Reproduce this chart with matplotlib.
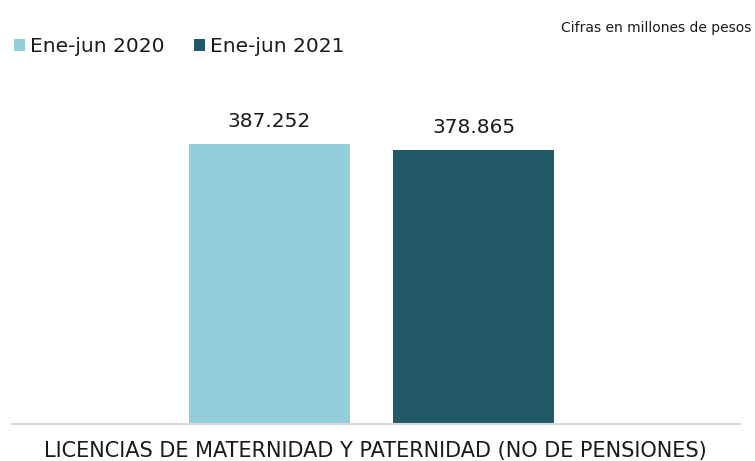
import numpy as np
import matplotlib.pyplot as plt
from matplotlib.patches import Patch

# datos
categoria = 'LICENCIAS DE MATERNIDAD Y PATERNIDAD (NO DE PENSIONES)'
series = ['Ene-jun 2020', 'Ene-jun 2021']
valores = [387.252, 378.865]
etiquetas = ['387.252', '378.865']
colores = ['#92CDDC', '#215968']

plt.rcParams['font.family'] = ['DejaVu Sans']
texto = '#1a1a1a'

fig = plt.figure(figsize=(7.55, 4.61), dpi=100)
fig.set_facecolor('white')
ax = fig.add_axes([12 / 755, 37 / 461, 728 / 755, 325 / 461])

ancho = 0.442
desplaz = [-0.2805, 0.2805]
for i in range(len(series)):
    ax.bar(desplaz[i], valores[i], width=ancho, color=colores[i])
    ax.text(desplaz[i], valores[i] + 18, etiquetas[i], ha='center', va='bottom',
            fontsize=14.5, color=texto)

ax.set_xlim(-0.988, 1.012)
ax.set_ylim(0, 450)
ax.set_xticks([])
ax.set_yticks([])
for s in ['top', 'right', 'left']:
    ax.spines[s].set_visible(False)
ax.spines['bottom'].set_color('#d9d9d9')
ax.spines['bottom'].set_linewidth(1.5)

# etiqueta de la categoria y nota
fig.text(375 / 755, 4.5 / 461, categoria, ha='center', va='baseline', fontsize=15, color=texto)
fig.text(751 / 755, 1 - 28 / 461, 'Cifras en millones de pesos', ha='right', va='center',
         fontsize=10, color=texto)

handles = [Patch(facecolor=colores[i], label=series[i]) for i in range(len(series))]
fig.legend(handles=handles, loc='center left', bbox_to_anchor=(14 / 755, 1 - 47 / 461),
           ncol=2, frameon=False, fontsize=14.5, handlelength=0.55, handleheight=0.55,
           handletextpad=0.25, columnspacing=1.45, borderpad=0, borderaxespad=0,
           labelcolor=texto)

fig.savefig('out.png', dpi=100)
